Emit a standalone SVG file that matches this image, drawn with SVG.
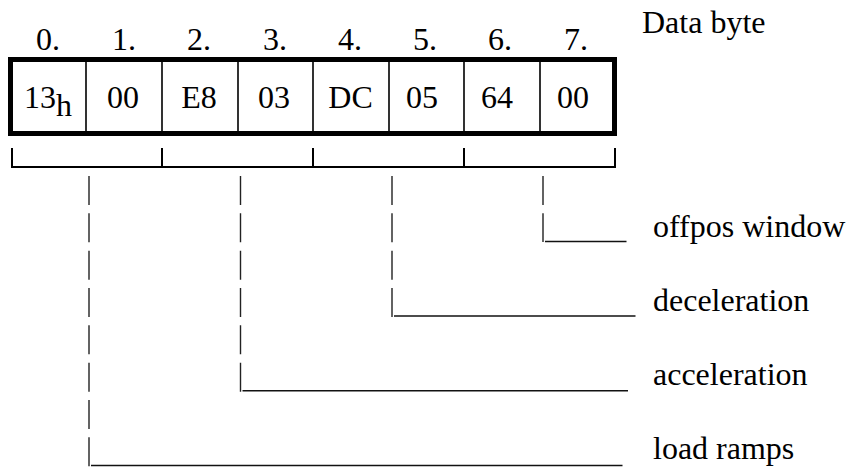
<svg xmlns="http://www.w3.org/2000/svg" width="846" height="468" viewBox="0 0 846 468">
<style>
text { font-family: "Liberation Serif", "Times New Roman", serif; font-size: 32px; fill: #000; }
.hdr { text-anchor: middle; }
.val { text-anchor: middle; }
.div { stroke: #000; stroke-width: 1.6; fill: none; }
.brk { stroke: #000; stroke-width: 2; fill: none; }
.dash { stroke: #222; stroke-width: 1.4; fill: none; stroke-dasharray: 29 8.33; }
.under { stroke: #111; stroke-width: 1.5; fill: none; }
</style>
<rect width="846" height="468" fill="#fff"/>
<g id="title"><text x="642" y="33">Data byte</text></g>
<g id="header">
<text class="hdr" x="48" y="50">0.</text>
<text class="hdr" x="124" y="50">1.</text>
<text class="hdr" x="199" y="50">2.</text>
<text class="hdr" x="275" y="50">3.</text>
<text class="hdr" x="350" y="50">4.</text>
<text class="hdr" x="425" y="50">5.</text>
<text class="hdr" x="500" y="50">6.</text>
<text class="hdr" x="576" y="50">7.</text>
</g>
<g id="bytes">
<rect x="10.5" y="59.5" width="604" height="74" fill="none" stroke="#000" stroke-width="5"/>
<path class="div" d="M86,62V131M162,62V131M238,62V131M313,62V131M389,62V131M464,62V131M540,62V131"/>
<g id="byte0"><text x="24" y="108">13<tspan dy="8">h</tspan></text></g>
<g id="byte1"><text class="val" x="123" y="108">00</text></g>
<g id="byte2"><text class="val" x="199" y="108">E8</text></g>
<g id="byte3"><text class="val" x="274" y="108">03</text></g>
<g id="byte4"><text class="val" x="350.5" y="108">DC</text></g>
<g id="byte5"><text class="val" x="422" y="108">05</text></g>
<g id="byte6"><text class="val" x="497" y="108">64</text></g>
<g id="byte7"><text class="val" x="573" y="108">00</text></g>
</g>
<g id="connectors">
<path class="brk" d="M12,148V167H615V148M162,148V167M313,148V167M464,148V167"/>
<line class="dash" x1="89" y1="176" x2="89" y2="466.5"/>
<line class="dash" x1="240.5" y1="176" x2="240.5" y2="391.7"/>
<line class="dash" x1="392" y1="176" x2="392" y2="317"/>
<line class="dash" x1="543" y1="176" x2="543" y2="242"/>
<line class="under" x1="91" y1="465.5" x2="622.5" y2="465.5"/>
<line class="under" x1="242.5" y1="390.7" x2="628" y2="390.7"/>
<line class="under" x1="394" y1="316" x2="635.5" y2="316"/>
<line class="under" x1="545" y1="241.5" x2="626.5" y2="241.5"/>
</g>
<g id="label-offpos"><text x="653" y="237">offpos window</text></g>
<g id="label-decel"><text x="653" y="310.5">deceleration</text></g>
<g id="label-accel"><text x="653" y="384.5">acceleration</text></g>
<g id="label-load"><text x="653" y="459">load ramps</text></g>
</svg>
